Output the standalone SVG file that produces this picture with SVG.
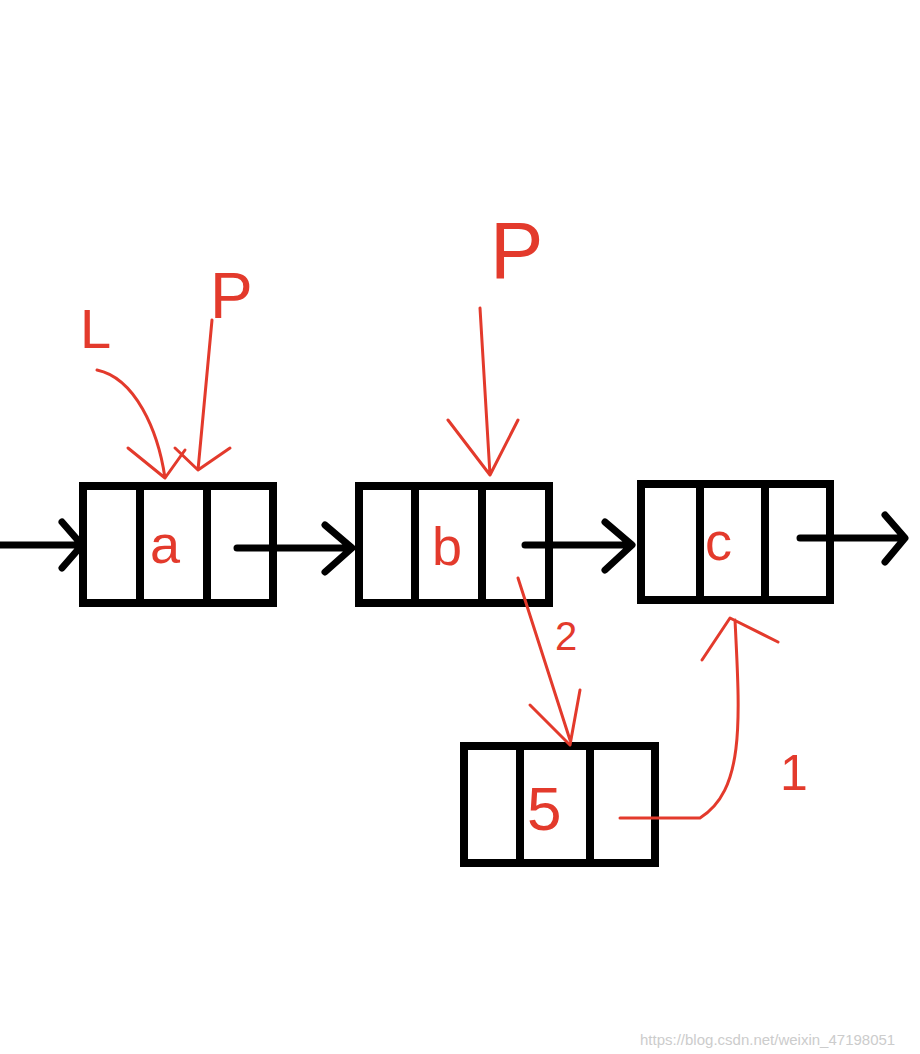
<svg xmlns="http://www.w3.org/2000/svg" width="920" height="1054" viewBox="0 0 920 1054">
<style>
.box{fill:none;stroke:#000;stroke-width:8}
.blk{fill:none;stroke:#000;stroke-width:7;stroke-linecap:round;stroke-linejoin:round}
.red{fill:none;stroke:#e33a2c;stroke-width:3;stroke-linecap:round;stroke-linejoin:round}
.lbl{fill:#e33a2c;font-family:"Liberation Sans",sans-serif}
</style>
<rect width="920" height="1054" fill="#fff"/>
<g id="node-a"><rect class="box" x="83" y="486" width="190" height="117"/><path class="box" d="M140 486V603M207 486V603"/><text class="lbl" x="150" y="563" font-size="54">a</text></g>
<g id="node-b"><rect class="box" x="359" y="486" width="190" height="117"/><path class="box" d="M415 486V603M482 486V603"/><text class="lbl" x="432" y="565" font-size="54">b</text></g>
<g id="node-c"><rect class="box" x="641" y="484" width="189" height="116"/><path class="box" d="M700 484V600M765 484V600"/><text class="lbl" x="705" y="560" font-size="54">c</text></g>
<g id="node-s"><rect class="box" x="464" y="746" width="191" height="117"/><path class="box" d="M520 746V863M590 746V863"/><text class="lbl" x="527" y="830" font-size="62">5</text></g>
<g id="labels">
<text class="lbl" x="80" y="348" font-size="56">L</text>
<text class="lbl" x="210" y="318" font-size="64">P</text>
<text class="lbl" x="490" y="278" font-size="80">P</text>
<text class="lbl" x="555" y="650" font-size="40">2</text>
<text class="lbl" x="780" y="790" font-size="50">1</text>
<text x="640" y="1045" font-size="15" fill="#ccc" font-family="Liberation Sans,sans-serif">https://blog.csdn.net/weixin_47198051</text>
</g>
<g id="connectors">
<path class="blk" d="M0 545H80M62 522L82 545L62 568"/>
<path class="blk" d="M237 548H350M325 525L352 548L325 572"/>
<path class="blk" d="M525 545H630M605 522L632 545L605 570"/>
<path class="blk" d="M800 538H900M885 515L905 538L885 562"/>
<path class="red" d="M97 370C135 378 158 430 165 478M128 448L165 478L185 450"/>
<path class="red" d="M212 320L198 470M175 448L198 470L230 448"/>
<path class="red" d="M480 308L490 475M448 420L490 475L518 420"/>
<path class="red" d="M518 578L570 740M530 705L570 745L580 690"/>
<path class="red" d="M620 818H700C745 790 740 720 735 620M702 660L730 618L778 642"/>
</g>
</svg>
